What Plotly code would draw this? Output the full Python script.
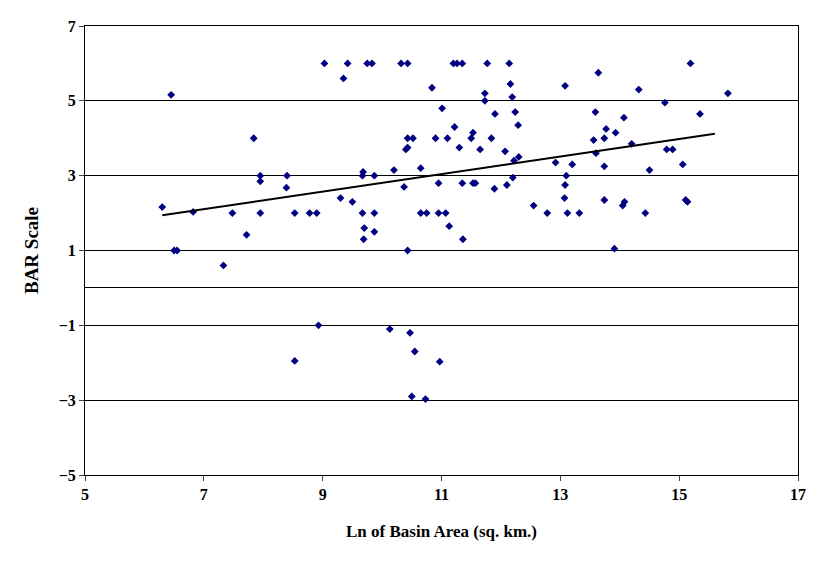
import numpy as np
import plotly.graph_objects as go

ln_area = [6.30, 6.45, 6.50, 6.55, 6.82, 7.33, 7.48, 7.72, 7.84, 7.95, 7.95, 7.95,
           8.39, 8.40, 8.53, 8.53, 8.78, 8.90, 8.93, 9.03, 9.30, 9.35, 9.42, 9.50,
           9.67, 9.68, 9.67, 9.69, 9.70, 9.75, 9.83, 9.87, 9.87, 9.87, 10.13, 10.20,
           10.32, 10.43, 10.37, 10.40, 10.43, 10.43, 10.52, 10.43, 10.47, 10.55, 10.50,
           10.65, 10.65, 10.75, 10.73, 10.84, 10.90, 10.95, 10.95, 10.97, 11.01, 11.07,
           11.10, 11.13, 11.20, 11.26, 11.22, 11.30, 11.35, 11.35, 11.36, 11.50, 11.53,
           11.53, 11.57, 11.65, 11.73, 11.73, 11.77, 11.84, 11.89, 11.90, 12.07, 12.10,
           12.14, 12.16, 12.19, 12.20, 12.22, 12.24, 12.29, 12.30, 12.55, 12.78, 12.92,
           13.07, 13.08, 13.10, 13.08, 13.12, 13.20, 13.32, 13.56, 13.59, 13.64, 13.60,
           13.74, 13.74, 13.74, 13.77, 13.91, 13.93, 14.05, 14.08, 14.07, 14.20, 14.32,
           14.43, 14.50, 14.76, 14.79, 14.89, 15.06, 15.11, 15.14, 15.19, 15.35, 15.82]
bar_scale = [2.16, 5.16, 1.0, 1.0, 2.03, 0.6, 2.0, 1.42, 4.0, 3.0, 2.85, 2.0,
             2.68, 3.0, 2.0, -1.95, 2.0, 2.0, -1.0, 6.0, 2.4, 5.6, 6.0, 2.3,
             3.0, 3.1, 2.0, 1.3, 1.6, 6.0, 6.0, 3.0, 2.0, 1.5, -1.1, 3.15,
             6.0, 6.0, 2.7, 3.7, 3.75, 4.0, 4.0, 1.0, -1.2, -1.7, -2.9,
             3.2, 2.0, 2.0, -2.97, 5.35, 4.0, 2.8, 2.0, -1.97, 4.8, 2.0,
             4.0, 1.65, 6.0, 6.0, 4.3, 3.75, 6.0, 2.8, 1.3, 4.0, 4.15,
             2.8, 2.8, 3.7, 5.0, 5.2, 6.0, 4.0, 2.65, 4.65, 3.65, 2.75,
             6.0, 5.45, 5.1, 2.95, 3.4, 4.7, 4.35, 3.5, 2.2, 2.0, 3.35,
             2.4, 2.75, 3.0, 5.4, 2.0, 3.3, 2.0, 3.95, 4.7, 5.75, 3.6,
             2.35, 3.25, 4.0, 4.25, 1.05, 4.15, 2.2, 2.3, 4.55, 3.85, 5.3,
             2.0, 3.15, 4.95, 3.7, 3.7, 3.3, 2.35, 2.3, 6.0, 4.65, 5.2]

slope, icpt = np.polyfit(ln_area, bar_scale, 1)
tx = np.array([min(ln_area), 15.6])

font = "Liberation Serif"
fig = go.Figure()
fig.add_trace(go.Scatter(x=ln_area, y=bar_scale, mode="markers",
                         marker=dict(symbol="diamond", size=6, color="#000080")))
fig.add_trace(go.Scatter(x=tx, y=slope * tx + icpt, mode="lines",
                         line=dict(color="black", width=2)))
fig.update_layout(
    width=833, height=561, showlegend=False,
    plot_bgcolor="white", paper_bgcolor="white",
    margin=dict(l=77, r=43, t=10, b=94),
    font=dict(family=font, size=14, color="black"),
    xaxis=dict(range=[5, 17], dtick=2, tick0=5, showgrid=False, zeroline=False,
               showline=True, linecolor="black", mirror=True, ticks="outside",
               tickfont=dict(family=font, size=16, weight="bold"),
               title=dict(text="<b>Ln of Basin Area (sq. km.)</b>", font=dict(size=17),
                          standoff=22)),
    yaxis=dict(range=[-5, 7], dtick=2, tick0=-5, showgrid=True, gridcolor="black",
               gridwidth=1, zeroline=True, zerolinecolor="black", zerolinewidth=1,
               showline=True, linecolor="black", mirror=True, ticks="outside",
               tickfont=dict(family=font, size=16, weight="bold"),
               title=dict(text="<b>BAR Scale</b>", font=dict(size=19))),
)
fig.write_html("out.html")
